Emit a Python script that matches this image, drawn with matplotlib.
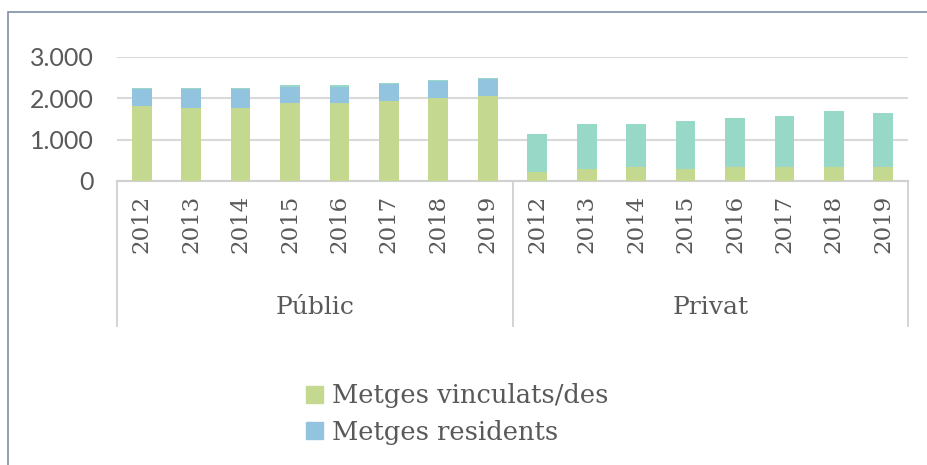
import matplotlib
matplotlib.use('Agg')
import matplotlib.pyplot as plt
import matplotlib.transforms as mtransforms
from matplotlib.patches import Rectangle, Patch

# data
years = ['2012', '2013', '2014', '2015', '2016', '2017', '2018', '2019']
sectors = ['Públic', 'Privat']
# Metges vinculats/des (green, bottom)
vinculats_public = [1815, 1760, 1760, 1880, 1880, 1937, 2002, 2058]
vinculats_privat = [218, 283, 346, 283, 346, 346, 346, 346]
# Metges residents (blue, middle)
residents_public = [400, 455, 450, 400, 400, 410, 410, 410]
residents_privat = [0, 0, 0, 0, 0, 0, 0, 0]
# third series (teal, top) - not shown in visible legend
altres_public = [30, 30, 30, 27, 27, 26, 26, 26]
altres_privat = [920, 1097, 1034, 1162, 1163, 1220, 1349, 1284]

green = '#C4D98F'
blue = '#92C4DF'
teal = '#98D8C7'
txt = '#595959'

vinc = vinculats_public + vinculats_privat
resi = residents_public + residents_privat
altr = altres_public + altres_privat
x = list(range(len(vinc)))
bottom2 = [a + b for a, b in zip(vinc, resi)]

fig = plt.figure(figsize=(9.27, 4.65), dpi=100)
W, H = 927, 465

# chart frame (cut at right / bottom)
fig.patches.append(Rectangle((8 / W, -0.1), 1.2, 1 - 12 / H + 0.1, transform=fig.transFigure,
                             fill=False, edgecolor='#8A96AE', linewidth=1.3))

ax = fig.add_axes([117 / W, 1 - 181 / H, (908 - 117) / W, (181 - 56.7) / H])
ax.bar(x, vinc, width=0.4, color=green, zorder=3)
ax.bar(x, resi, width=0.4, bottom=vinc, color=blue, zorder=3)
ax.bar(x, altr, width=0.4, bottom=bottom2, color=teal, zorder=3)

ax.set_xlim(-0.5, 15.5)
ax.set_ylim(0, 3000)
ax.set_yticks([0, 1000, 2000, 3000])
ax.set_yticklabels(['0', '1.000', '2.000', '3.000'], fontsize=18, color=txt, family='Lato')
ax.yaxis.grid(True, color='#D9D9D9', linewidth=1.5, zorder=0)
ax.tick_params(axis='y', length=0, pad=17)
for s in ['top', 'right', 'left']:
    ax.spines[s].set_visible(False)
ax.spines['bottom'].set_color('#D0D0D0')
ax.spines['bottom'].set_linewidth(1.5)

ax.set_xticks(x)
ax.set_xticklabels(years * 2, rotation=90, fontsize=16.5, color=txt, family='DejaVu Serif')
ax.tick_params(axis='x', length=0, pad=10)

# group separators and group labels
tr = mtransforms.blended_transform_factory(ax.transData, ax.transAxes)
ybot = -(326 - 181) / (181 - 56.7)
for xv in [-0.5, 7.5, 15.5]:
    ax.plot([xv, xv], [0, ybot], transform=tr, color='#D0D0D0', linewidth=1.3, clip_on=False)
ylab = -(307 - 181) / (181 - 56.7)
for i, name in enumerate(sectors):
    ax.text(3.5 + 8 * i, ylab, name, transform=tr, ha='center', va='center',
            fontsize=18, color=txt, family='DejaVu Serif')

handles = [Patch(color=green), Patch(color=blue)]
fig.legend(handles, ['Metges vinculats/des', 'Metges residents'], loc='upper left',
           bbox_to_anchor=(283 / W, 1 - 360 / H), frameon=False,
           handlelength=0.65, handleheight=0.65, handletextpad=0.35, labelspacing=0.45,
           labelcolor=txt, prop={'family': 'DejaVu Serif', 'size': 18.5})

fig.savefig('out.png', dpi=100)
